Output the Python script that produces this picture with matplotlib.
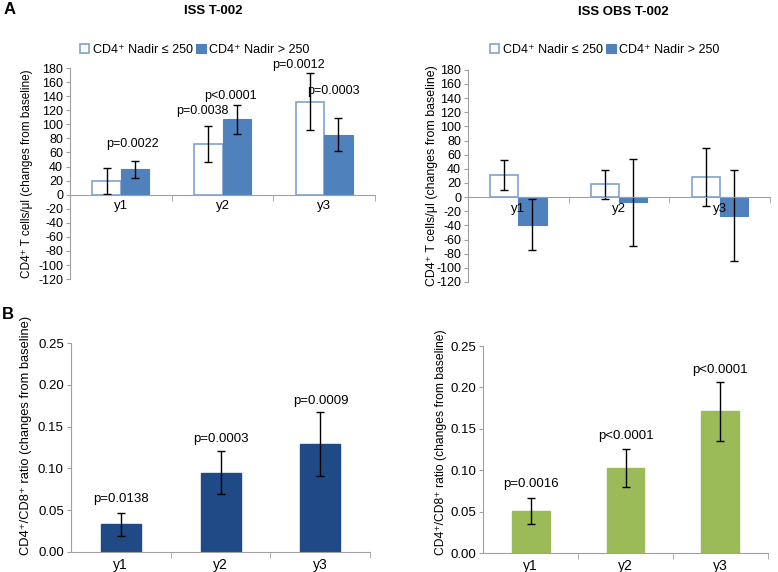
import numpy as np
import matplotlib.pyplot as plt
from matplotlib.ticker import FixedLocator

plt.rcParams['font.family'] = ['Liberation Sans', 'DejaVu Sans']
plt.rcParams['axes.unicode_minus'] = False

years = ["y1", "y2", "y3"]

# panel A: CD4+ T cells/ul changes, two nadir groups
iss_low = [19.5, 72, 132]
iss_low_err = [18.5, 25.5, 40.5]
iss_high = [36, 107, 85]
iss_high_err = [12, 20.5, 23.5]
iss_low_p = ["", "p=0.0038", "p=0.0012"]
iss_high_p = ["p=0.0022", "p<0.0001", "p=0.0003"]
iss_low_py = [0, 119, 184]
iss_high_py = [72, 141, 147]

obs_low = [31, 18, 29]
obs_low_err = [21, 21, 41]
obs_high = [-39, -7.5, -26.5]
obs_high_err = [36, 61, 64.5]

# panel B: CD4+/CD8+ ratio
ratio_iss = [0.033, 0.095, 0.129]
ratio_iss_err = [0.014, 0.026, 0.0385]
ratio_iss_p = ["p=0.0138", "p=0.0003", "p=0.0009"]
ratio_iss_py = [0.063, 0.135, 0.181]

ratio_obs = [0.051, 0.103, 0.171]
ratio_obs_err = [0.0155, 0.023, 0.0355]
ratio_obs_p = ["p=0.0016", "p<0.0001", "p<0.0001"]
ratio_obs_py = [0.084, 0.1415, 0.2206]

open_edge = "#7fa3d0"
filled = "#4f81bd"
navy = "#1f4a85"
green = "#9bbb59"
axis_gray = "#a0a0a0"

low_label = "CD4\u207a Nadir \u2264 250"
high_label = "CD4\u207a Nadir > 250"
ebar = dict(ecolor="black", elinewidth=1, capsize=3, capthick=1)


def style_axis(ax, size):
    for s in ["top", "right"]:
        ax.spines[s].set_visible(False)
    ax.spines["left"].set_color(axis_gray)
    ax.spines["bottom"].set_color(axis_gray)
    ax.set_axisbelow(False)
    ax.tick_params(axis="y", colors=axis_gray, labelcolor="black", labelsize=size, length=3, pad=2)
    ax.tick_params(axis="x", which="major", length=0, labelsize=size + 0.5, pad=4)
    ax.tick_params(axis="x", which="minor", colors=axis_gray, length=4, direction="out")
    ax.set_xlim(-0.5, 2.5)
    ax.set_xticks(np.arange(3))
    ax.set_xticklabels(years)
    ax.xaxis.set_minor_locator(FixedLocator([0.5, 1.5, 2.5]))


def cd4_panel(ax, low, low_err, high, high_err, label_size):
    x = np.arange(len(years))
    w = 0.28
    ax.bar(x - w / 2, low, w, color="white", edgecolor=open_edge, linewidth=1.2,
           yerr=low_err, error_kw=ebar, label=low_label, zorder=2)
    ax.bar(x + w / 2, high, w, color=filled, edgecolor=filled, linewidth=0.8,
           yerr=high_err, error_kw=ebar, label=high_label, zorder=2)
    style_axis(ax, 9)
    ax.spines["bottom"].set_position(("data", 0))
    ax.set_ylim(-120, 180)
    ax.set_yticks(np.arange(-120, 181, 20))
    ax.set_ylabel("CD4\u207a T cells/\u03bcl (changes from baseline)", fontsize=label_size)
    return x, w


def ratio_panel(ax, vals, err, color, labels, py, label_size):
    x = np.arange(len(years))
    ax.bar(x, vals, 0.4, color=color, edgecolor=color, yerr=err, error_kw=ebar, zorder=2)
    style_axis(ax, 9.5)
    ax.set_ylim(0, 0.25)
    ticks = np.arange(0, 0.251, 0.05)
    ax.set_yticks(ticks)
    ax.set_yticklabels([f"{v:.2f}" for v in ticks])
    ax.set_ylabel("CD4\u207a/CD8\u207a ratio (changes from baseline)", fontsize=label_size)
    for xi, lab, yy in zip(x, labels, py):
        ax.text(xi, yy, lab, ha="center", va="center", fontsize=9.5)


fig = plt.figure(figsize=(7.78, 5.72), dpi=100)
ax1 = fig.add_axes([0.090, 0.512, 0.392, 0.369])
ax2 = fig.add_axes([0.6015, 0.507, 0.3885, 0.371])
ax3 = fig.add_axes([0.091, 0.035, 0.385, 0.365])
ax4 = fig.add_axes([0.621, 0.033, 0.366, 0.362])

x, w = cd4_panel(ax1, iss_low, iss_low_err, iss_high, iss_high_err, 8.5)
low_dx = [0, -0.06, -0.11]
high_dx = [-0.03, -0.06, -0.05]
for xi, lab, yy, dx in zip(x, iss_low_p, iss_low_py, low_dx):
    if lab:
        ax1.text(xi - w / 2 + dx, yy, lab, ha="center", va="center", fontsize=9)
for xi, lab, yy, dx in zip(x, iss_high_p, iss_high_py, high_dx):
    ax1.text(xi + w / 2 + dx, yy, lab, ha="center", va="center", fontsize=9)
ax1.yaxis.set_label_coords(-0.121, 0.5)

cd4_panel(ax2, obs_low, obs_low_err, obs_high, obs_high_err, 8.9)
ax2.yaxis.set_label_coords(-0.100, 0.5)

ratio_panel(ax3, ratio_iss, ratio_iss_err, navy, ratio_iss_p, ratio_iss_py, 9.3)
ax3.yaxis.set_label_coords(-0.130, 0.56)
ratio_panel(ax4, ratio_obs, ratio_obs_err, green, ratio_obs_p, ratio_obs_py, 8.7)
ax4.yaxis.set_label_coords(-0.126, 0.536)

for ax, lx in [(ax1, 80), (ax2, 490)]:
    ax.legend(loc="center left", bbox_to_anchor=(lx / 778, 1 - 50 / 572),
              bbox_transform=fig.transFigure, ncol=2, frameon=False,
              fontsize=9, handlelength=0.75, handleheight=0.75, handletextpad=0.3,
              columnspacing=0.25, borderaxespad=0, borderpad=0)

fig.text(213 / 778, 1 - 11 / 572, "ISS T-002", fontsize=9.5, fontweight="bold",
         ha="center", va="center")
fig.text(623 / 778, 1 - 12 / 572, "ISS OBS T-002", fontsize=9.5, fontweight="bold",
         ha="center", va="center")
fig.text(0.004, 0.997, "A", fontsize=12, fontweight="bold", va="top")
fig.text(0.003, 1 - 307 / 572, "B", fontsize=12, fontweight="bold", va="top")

fig.savefig("out.png", dpi=100)
